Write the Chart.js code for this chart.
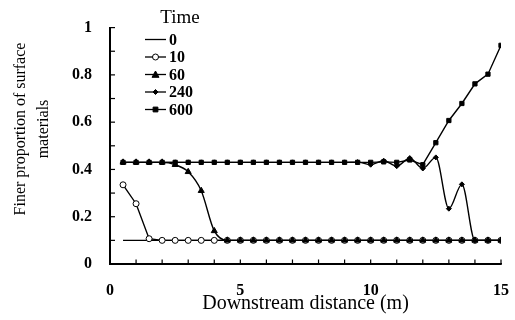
<!DOCTYPE html>
<html>
<head>
<meta charset="utf-8">
<script src="https://cdn.jsdelivr.net/npm/chart.js@4.4.1/dist/chart.umd.min.js"></script>
<style>
  html, body { margin: 0; padding: 0; background: #fff; }
  #wrap { width: 515px; height: 320px; }
</style>
</head>
<body>
<div id="wrap"><canvas id="myChart"></canvas></div>
<script>
// downstream distance (m) of each sample point
var distance = [0.5, 1, 1.5, 2, 2.5, 3, 3.5, 4, 4.5, 5, 5.5, 6, 6.5, 7, 7.5,
                8, 8.5, 9, 9.5, 10, 10.5, 11, 11.5, 12, 12.5, 13, 13.5, 14, 14.5, 15];

// finer proportion for each time
var time0   = [0.1, 0.1, 0.1, 0.1, 0.1, 0.1, 0.1, 0.1, 0.1, 0.1, 0.1, 0.1, 0.1, 0.1, 0.1,
               0.1, 0.1, 0.1, 0.1, 0.1, 0.1, 0.1, 0.1, 0.1, 0.1, 0.1, 0.1, 0.1, 0.1, 0.1];
var time10  = [0.335, 0.255, 0.107, 0.1, 0.1, 0.1, 0.1, 0.1, 0.1, 0.1, 0.1, 0.1, 0.1, 0.1, 0.1,
               0.1, 0.1, 0.1, 0.1, 0.1, 0.1, 0.1, 0.1, 0.1, 0.1, 0.1, 0.1, 0.1, 0.1, 0.1];
var time60  = [0.43, 0.43, 0.43, 0.43, 0.42, 0.39, 0.31, 0.14, 0.1, 0.1, 0.1, 0.1, 0.1, 0.1, 0.1,
               0.1, 0.1, 0.1, 0.1, 0.1, 0.1, 0.1, 0.1, 0.1, 0.1, 0.1, 0.1, 0.1, 0.1, 0.1];
var time240 = [0.43, 0.43, 0.43, 0.43, 0.43, 0.43, 0.43, 0.43, 0.43, 0.43, 0.43, 0.43, 0.43, 0.43, 0.43,
               0.43, 0.43, 0.43, 0.431, 0.42, 0.437, 0.414, 0.448, 0.404, 0.451, 0.234, 0.337, 0.1, 0.1, 0.1];
var time600 = [0.43, 0.43, 0.43, 0.43, 0.43, 0.43, 0.43, 0.43, 0.43, 0.43, 0.43, 0.43, 0.43, 0.43, 0.43,
               0.43, 0.43, 0.43, 0.43, 0.43, 0.432, 0.43, 0.44, 0.42, 0.513, 0.607, 0.679, 0.762, 0.803, 0.925];

var seriesNames = ['0', '10', '60', '240', '600'];

var serif = "'Liberation Serif', 'Times New Roman', serif";
Chart.defaults.font.family = serif;
Chart.defaults.color = '#000';

function pts(ys) {
    return distance.map(function (x, i) { return { x: x, y: ys[i] }; });
}

// marker drawing used by the legend
function drawMarker(ctx, style, r, x, y, fill) {
    if (!r) return;
    ctx.beginPath();
    if (style === 'circle') {
        ctx.arc(x, y, r, 0, Math.PI * 2);
    } else if (style === 'triangle') {
        ctx.moveTo(x, y - r);
        ctx.lineTo(x + r, y + r * 0.8);
        ctx.lineTo(x - r, y + r * 0.8);
        ctx.closePath();
    } else if (style === 'rectRot') {
        ctx.moveTo(x, y - r); ctx.lineTo(x + r, y); ctx.lineTo(x, y + r); ctx.lineTo(x - r, y);
        ctx.closePath();
    } else {
        ctx.rect(x - r * 0.8, y - r * 0.8, r * 1.6, r * 1.6);
    }
    ctx.fillStyle = fill;
    ctx.fill();
    ctx.stroke();
}

// axis lines, inward ticks, y title and the "Time" legend
var decorations = {
    id: 'decorations',
    afterDraw: function (chart) {
        var ctx = chart.ctx, xs = chart.scales.x, ys = chart.scales.y;
        var left = ys.right, bottom = xs.top;
        var top = ys.getPixelForValue(1), right = xs.getPixelForValue(15);
        ctx.save();
        ctx.fillStyle = '#000';

        // axis lines
        ctx.fillRect(left - 1, top, 2, bottom - top + 1);
        ctx.fillRect(left - 1, bottom - 1, right - left + 1.5, 2);

        // tick marks point into the plot
        xs.ticks.forEach(function (t) {
            var px = xs.getPixelForValue(t.value);
            ctx.fillRect(px - 0.6, bottom - 4.5, 1.2, 4.5);
        });
        ys.ticks.forEach(function (t) {
            var py = ys.getPixelForValue(t.value);
            ctx.fillRect(left, py - 0.6, 5, 1.2);
        });

        // y axis title, two lines
        ctx.save();
        ctx.font = '16px ' + serif;
        ctx.textAlign = 'center';
        ctx.textBaseline = 'middle';
        ctx.translate(21, 129);
        ctx.rotate(-Math.PI / 2);
        ctx.fillText('Finer proportion of surface', 0, 0);
        ctx.fillText('materials', 0, 23);
        ctx.restore();

        // legend
        ctx.textBaseline = 'middle';
        ctx.textAlign = 'center';
        ctx.font = '19px ' + serif;
        ctx.fillText('Time', 180, 18);
        ctx.font = 'bold 16px ' + serif;
        ctx.textAlign = 'left';
        chart.data.datasets.forEach(function (ds, i) {
            var y = 39.5 + i * 17.5;
            ctx.fillStyle = '#000';
            ctx.fillRect(145, y - 0.65, 21, 1.3);
            ctx.strokeStyle = '#000';
            ctx.lineWidth = 1;
            drawMarker(ctx, ds.pointStyle, ds.pointRadius, 155.5, y, ds.pointBackgroundColor);
            ctx.fillStyle = '#000';
            ctx.fillText(ds.label, 169, y + 1);
        });
        ctx.restore();
    }
};

function makeSet(label, ys, style, radius, fill, order, smooth) {
    return {
        label: label,
        data: pts(ys),
        borderColor: '#000',
        borderWidth: 1.4,
        pointStyle: style,
        pointRadius: radius,
        pointBorderWidth: 1,
        pointBorderColor: '#000',
        pointBackgroundColor: fill,
        cubicInterpolationMode: smooth ? 'monotone' : 'default',
        tension: 0,
        order: order,
        fill: false
    };
}

function createChart() {
    var ctx = document.getElementById('myChart').getContext('2d');
    new Chart(ctx, {
        type: 'line',
        data: {
            datasets: [
                makeSet(seriesNames[0], time0, 'circle', 0, '#000', 5, false),
                makeSet(seriesNames[1], time10, 'circle', 3, '#fff', 4, false),
                makeSet(seriesNames[2], time60, 'triangle', 3.5, '#000', 2, true),
                makeSet(seriesNames[3], time240, 'rectRot', 2.5, '#000', 3, true),
                makeSet(seriesNames[4], time600, 'rect', 3, '#000', 1, false)
            ]
        },
        options: {
            responsive: true,
            maintainAspectRatio: false,
            animation: false,
            layout: { padding: { left: 0, right: 14, top: 22, bottom: 0 } },
            plugins: {
                legend: { display: false },
                tooltip: { enabled: false }
            },
            scales: {
                x: {
                    type: 'linear',
                    min: 0,
                    max: 15,
                    afterFit: function (s) { s.height = 56; s.paddingRight = 0; },
                    border: { display: true, color: '#000', width: 1.6 },
                    grid: { drawOnChartArea: false, drawTicks: false },
                    ticks: {
                        stepSize: 1,
                        padding: 17,
                        maxRotation: 0,
                        autoSkip: false,
                        font: { size: 16, weight: 'bold' },
                        callback: function (v) { return v % 5 === 0 ? String(v) : ''; }
                    },
                    title: {
                        display: true,
                        text: 'Downstream distance (m)',
                        font: { size: 20 },
                        padding: { top: 0, bottom: 4 }
                    }
                },
                y: {
                    min: 0,
                    max: 1,
                    afterFit: function (s) { s.width = 110; },
                    border: { display: true, color: '#000', width: 1.6 },
                    grid: { drawOnChartArea: false, drawTicks: false },
                    ticks: {
                        stepSize: 0.1,
                        padding: 18,
                        autoSkip: false,
                        font: { size: 16, weight: 'bold' },
                        callback: function (v) {
                            var k = Math.round(v * 10);
                            if (k % 2 !== 0) return '';
                            if (k === 0) return '0';
                            if (k === 10) return '1';
                            return (k / 10).toFixed(1);
                        }
                    }
                }
            }
        },
        plugins: [decorations]
    });
}

createChart();
</script>
</body>
</html>
